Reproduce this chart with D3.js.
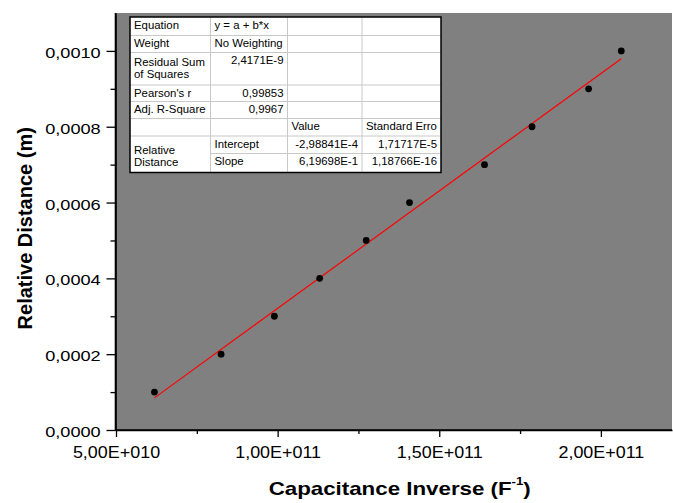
<!DOCTYPE html>
<html>
<head>
<meta charset="utf-8">
<script src="https://cdn.jsdelivr.net/npm/d3@7"></script>
<style>
  body { margin: 0; background: #fff; }
  svg { display: block; font-family: "Liberation Sans", Arial, sans-serif; }
</style>
</head>
<body>
<svg id="chart" width="673" height="503"></svg>
<script>
/*-- chart values --*/
var invCapacitance = [6.19e10, 8.25e10, 9.90e10, 1.130e11, 1.274e11, 1.408e11, 1.640e11, 1.787e11, 1.962e11, 2.063e11];
var relDistance    = [0.0001, 0.0002, 0.0003, 0.0004, 0.0005, 0.0006, 0.0007, 0.0008, 0.0009, 0.0010];

// linear fit y = a + b*x
var fitIntercept = -2.98841e-4;
var fitSlope = 6.19698e-15;

var xTicks = [5e10, 1e11, 1.5e11, 2e11];
var xTickLabels = ["5,00E+010", "1,00E+011", "1,50E+011", "2,00E+011"];
var xMinorTicks = [7.5e10, 1.25e11, 1.75e11];

var yTicks = [0, 0.0002, 0.0004, 0.0006, 0.0008, 0.0010];
var yTickLabels = ["0,0000", "0,0002", "0,0004", "0,0006", "0,0008", "0,0010"];
var yMinorTicks = [0.0001, 0.0003, 0.0005, 0.0007, 0.0009];

// fit report table: [row, col, rowspan, text lines]
var tableCells = [
  [0, 0, 1, ["Equation"]],      [0, 1, 1, ["y = a + b*x"]],
  [1, 0, 1, ["Weight"]],        [1, 1, 1, ["No Weighting"]],
  [2, 0, 1, ["Residual Sum", "of Squares"]], [2, 1, 1, ["2,4171E-9"]],
  [3, 0, 1, ["Pearson's r"]],   [3, 1, 1, ["0,99853"]],
  [4, 0, 1, ["Adj. R-Square"]], [4, 1, 1, ["0,9967"]],
  [5, 2, 1, ["Value"]],         [5, 3, 1, ["Standard Erro"]],
  [6, 0, 2, ["Relative", "Distance"]], [6, 1, 1, ["Intercept"]],
  [6, 2, 1, ["-2,98841E-4"]],   [6, 3, 1, ["1,71717E-5"]],
  [7, 1, 1, ["Slope"]],         [7, 2, 1, ["6,19698E-1"]], [7, 3, 1, ["1,18766E-16"]]
];

/*-- layout --*/
var plot = {left: 116, right: 672, top: 13, bottom: 430};

var svg = d3.select("#chart");

var x = d3.scaleLinear().domain([5e10, 2.22e11]).range([plot.left, plot.right]);
var y = d3.scaleLinear().domain([0, 0.0011]).range([plot.bottom, plot.top]);

// grey plot background
svg.append("rect")
  .attr("x", plot.left).attr("y", plot.top)
  .attr("width", plot.right - plot.left).attr("height", plot.bottom - plot.top)
  .attr("fill", "#808080");

// fit line, drawn over the data range
var xExt = d3.extent(invCapacitance);
svg.append("path")
  .datum(xExt)
  .attr("fill", "none")
  .attr("stroke", "#ff0000")
  .attr("stroke-width", 1.2)
  .attr("d", d3.line()
    .x(function(d) { return x(d); })
    .y(function(d) { return y(fitIntercept + fitSlope * d); }));

// data points
svg.selectAll(".pt")
  .data(invCapacitance)
  .enter().append("circle")
    .attr("class", "pt")
    .attr("cx", function(d) { return x(d); })
    .attr("cy", function(d, i) { return y(relDistance[i]); })
    .attr("r", 3.4)
    .attr("fill", "#000");

/*-- axes --*/
var xAxis = d3.axisBottom(x).tickValues(xTicks).tickSize(7).tickSizeOuter(0)
  .tickFormat(function(d, i) { return xTickLabels[i]; });
var xMinor = d3.axisBottom(x).tickValues(xMinorTicks).tickSize(4).tickSizeOuter(0).tickFormat("");
var yAxis = d3.axisLeft(y).tickValues(yTicks).tickSize(9).tickSizeOuter(0)
  .tickFormat(function(d, i) { return yTickLabels[i]; });
var yMinor = d3.axisLeft(y).tickValues(yMinorTicks).tickSize(5).tickSizeOuter(0).tickFormat("");

var gx = svg.append("g").attr("transform", "translate(0," + plot.bottom + ")");
gx.call(xAxis);
gx.append("g").call(xMinor);
gx.selectAll("text")
  .attr("y", 0).attr("dy", 0)
  .attr("transform", "translate(0,28.3) scale(1.055,1)")
  .style("font-size", "17px")
  .attr("fill", "#000");

var gy = svg.append("g").attr("transform", "translate(" + (plot.left - 0.5) + ",0)");
gy.call(yAxis);
gy.append("g").call(yMinor);
gy.selectAll("text")
  .attr("x", 0).attr("dy", "0.42em")
  .attr("transform", "translate(-14.8,0) scale(1.18,1)")
  .style("font-size", "15.4px")
  .attr("fill", "#000");

svg.selectAll(".domain").attr("stroke", "#000").attr("stroke-width", 1.6);
svg.selectAll(".tick line").attr("stroke", "#000").attr("stroke-width", 1.3);
// full-height axis lines
gx.select(".domain").attr("d", "M" + (plot.left - 1) + ",0H" + plot.right);
gy.select(".domain").attr("d", "M0," + plot.top + "V" + (plot.bottom + 0.5));

/*-- axis titles --*/
svg.append("text")
  .attr("transform", "translate(31.5,228.3) rotate(-90)")
  .attr("text-anchor", "middle")
  .style("font-size", "20px")
  .style("font-weight", "bold")
  .text("Relative Distance (m)");

var xt = svg.append("text")
  .attr("transform", "translate(399.7,495) scale(1.2,1)")
  .attr("text-anchor", "middle")
  .style("font-size", "18.6px")
  .style("font-weight", "bold");
xt.append("tspan").text("Capacitance Inverse (F");
xt.append("tspan").attr("dy", -10).style("font-size", "11px").text("-1");
xt.append("tspan").attr("dy", 10).text(")");

/*-- fit report table --*/
var colEdges = [130, 210.5, 287.5, 362, 441];
var rowEdges = [17, 35.5, 52.5, 85, 101.5, 118.5, 136, 153.5, 172.5];

var tbl = svg.append("g");
tbl.append("rect")
  .attr("x", colEdges[0]).attr("y", rowEdges[0])
  .attr("width", colEdges[4] - colEdges[0]).attr("height", rowEdges[8] - rowEdges[0])
  .attr("fill", "#fff");

// inner grid lines (merged "Relative Distance" cell has no line in col 0)
for (var r = 1; r < rowEdges.length - 1; r++) {
  var x0 = (r === 7) ? colEdges[1] : colEdges[0];
  tbl.append("line")
    .attr("x1", x0).attr("x2", colEdges[4])
    .attr("y1", rowEdges[r]).attr("y2", rowEdges[r])
    .attr("stroke", "#c8c8c8").attr("stroke-width", 1);
}
for (var c = 1; c < colEdges.length - 1; c++) {
  tbl.append("line")
    .attr("x1", colEdges[c]).attr("x2", colEdges[c])
    .attr("y1", rowEdges[0]).attr("y2", rowEdges[8])
    .attr("stroke", "#c8c8c8").attr("stroke-width", 1);
}
tbl.append("rect")
  .attr("x", colEdges[0]).attr("y", rowEdges[0])
  .attr("width", colEdges[4] - colEdges[0]).attr("height", rowEdges[8] - rowEdges[0])
  .attr("fill", "none").attr("stroke", "#000").attr("stroke-width", 1.5);

tableCells.forEach(function(cell) {
  var row = cell[0], col = cell[1], span = cell[2], lines = cell[3];
  var top = rowEdges[row], bot = rowEdges[row + span];
  var numeric = /^-?\d/.test(lines[0]);
  var tx = numeric ? colEdges[col + 1] - 4 : colEdges[col] + 4;
  var base;
  if (lines.length === 1) base = top + 11.8;
  else base = (top + bot) / 2 - 6 * (lines.length - 1) + (span > 1 ? 5.5 : 3);
  lines.forEach(function(t, k) {
    tbl.append("text")
      .attr("x", tx).attr("y", base + k * 12)
      .attr("text-anchor", numeric ? "end" : "start")
      .style("font-size", "11.4px")
      .attr("fill", "#000")
      .text(t);
  });
});
</script>
</body>
</html>
